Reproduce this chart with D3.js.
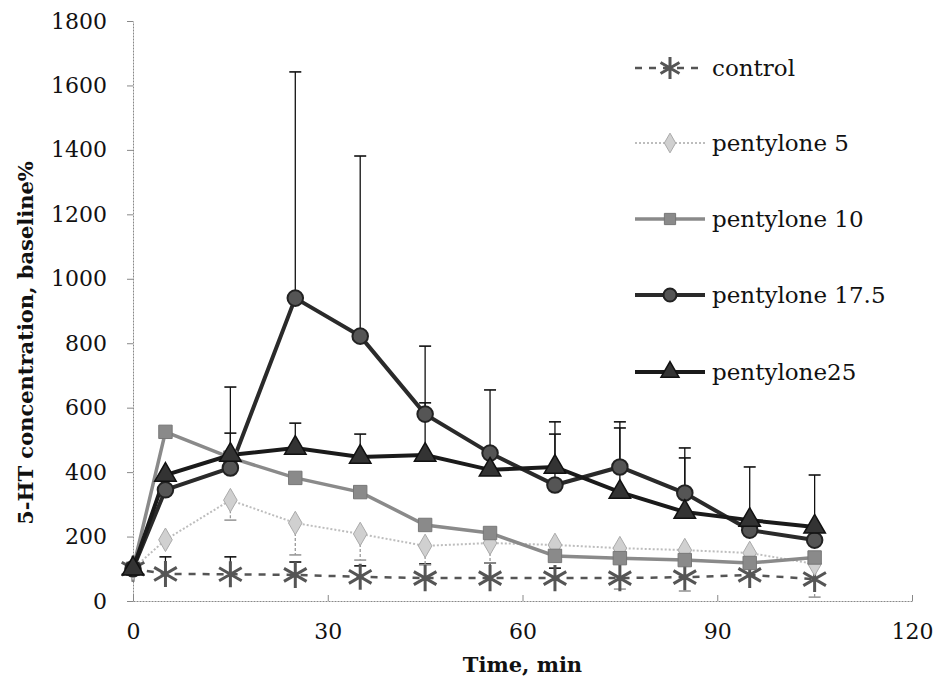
<!DOCTYPE html>
<html lang="en">

<head>
    <meta charset="UTF-8" />
    <title>5-HT concentration</title>
    <script src="https://d3js.org/d3.v7.min.js"></script>
    <style>
        body { margin: 0; background: #fff; }
        svg text { font-family: "DejaVu Serif", "Liberation Serif", serif; fill: #111; }
        .axis .domain { stroke: #888; stroke-dasharray: 2 1; }
        .axis line { stroke: #888; }
    </style>
</head>

<body>
    <svg id="chart" width="940" height="693"></svg>
    <script>
        // time points, min
        const times = [0, 5, 15, 25, 35, 45, 55, 65, 75, 85, 95, 105];

        // mean values, baseline%
        const control = [100, 84, 83, 81, 75, 71, 71, 71, 71, 74, 81, 68];
        const pentylone5 = [100, 190, 313, 242, 208, 171, 180, 174, 164, 158, 149, 115];
        const pentylone10 = [100, 525, 445, 382, 338, 236, 211, 140, 133, 127, 118, 135];
        const pentylone175 = [100, 345, 413, 940, 822, 580, 459, 360, 416, 335, 220, 189];
        const pentylone25 = [100, 391, 453, 475, 447, 453, 407, 416, 338, 276, 251, 230];

        // error bar tips (null = not visible)
        const controlUpper = [null, 137, 137, 121, 109, 115, 118, 102, null, null, null, null];
        const controlLower = [null, null, null, null, null, null, null, null, 37, 31, null, 12];
        const pentylone5Lower = [null, null, 251, 143, 127, 112, 118, null, null, null, null, null];
        const pentylone175Upper = [null, null, 664, 1642, 1381, 791, 655, 556, 556, 475, 416, 391];
        const pentylone25Upper = [null, null, 521, 552, 518, 615, null, 518, 537, 444, null, null];

        const xTicks = [0, 30, 60, 90, 120];
        const yTicks = [0, 200, 400, 600, 800, 1000, 1200, 1400, 1600, 1800];

        const series = [
            { name: "control", values: control, upper: controlUpper, lower: controlLower },
            { name: "pentylone 5", values: pentylone5, lower: pentylone5Lower },
            { name: "pentylone 10", values: pentylone10 },
            { name: "pentylone 17.5", values: pentylone175, upper: pentylone175Upper },
            { name: "pentylone25", values: pentylone25, upper: pentylone25Upper },
        ];

        const styles = {
            "control": { stroke: "#555", width: 2.5, dash: "7 7", symbol: d3.symbolAsterisk, size: 480, fill: "none", mstroke: "#555", mwidth: 3 },
            "pentylone 5": { stroke: "#bdbdbd", width: 2, dash: "2 2", symbol: d3.symbolDiamond, size: 160, fill: "#d0d0d0", mstroke: "#aaa", mwidth: 1 },
            "pentylone 10": { stroke: "#8a8a8a", width: 3.5, dash: null, symbol: d3.symbolSquare, size: 180, fill: "#8a8a8a", mstroke: "#777", mwidth: 1 },
            "pentylone 17.5": { stroke: "#2a2a2a", width: 4, dash: null, symbol: d3.symbolCircle, size: 190, fill: "#555", mstroke: "#222", mwidth: 2 },
            "pentylone25": { stroke: "#1a1a1a", width: 4, dash: null, symbol: d3.symbolTriangle, size: 200, fill: "#333", mstroke: "#111", mwidth: 1.5 },
        };

        const svg = d3.select("svg#chart");
        const margins = { top: 21, right: 28, bottom: 92, left: 133 };
        const svgWidth = +svg.attr("width");
        const svgHeight = +svg.attr("height");

        const xScale = d3.scaleLinear().domain([0, 120]).range([margins.left, svgWidth - margins.right]);
        const yScale = d3.scaleLinear().domain([0, 1800]).range([svgHeight - margins.bottom, margins.top]);

        const serif = '"DejaVu Serif", "Liberation Serif", serif';

        // axes
        svg.append("g")
            .attr("class", "y axis")
            .attr("transform", `translate(${margins.left},0)`)
            .call(d3.axisLeft(yScale).tickValues(yTicks).tickFormat(d3.format("d")).tickSize(6).tickSizeOuter(0).tickPadding(20))
            .call(g => g.selectAll("text").style("font-size", "22px").style("font-family", serif).attr("fill", "#111"));

        svg.append("g")
            .attr("class", "x axis")
            .attr("transform", `translate(0,${yScale(0)})`)
            .call(d3.axisBottom(xScale).tickValues(xTicks).tickSize(-6).tickSizeOuter(0).tickPadding(22))
            .call(g => g.selectAll("text").style("font-size", "22px").style("font-family", serif).attr("fill", "#111"));

        // axis titles
        svg.append("text")
            .attr("x", (margins.left + svgWidth - margins.right) / 2)
            .attr("y", 672)
            .attr("text-anchor", "middle")
            .style("font-family", serif)
            .style("font-size", "21px")
            .style("font-weight", "bold")
            .text("Time, min");

        svg.append("text")
            .attr("transform", "translate(33,343) rotate(-90)")
            .attr("text-anchor", "middle")
            .style("font-family", serif)
            .style("font-size", "21px")
            .style("font-weight", "bold")
            .text("5-HT concentration, baseline%");

        const plot = svg.append("g").attr("id", "plot");

        // error bars
        series.forEach(s => {
            ["upper", "lower"].forEach(kind => {
                if (!s[kind]) return;
                const isGrey = kind === "lower";
                const bars = times.map((t, i) => ({ t, v: s.values[i], e: s[kind][i] })).filter(d => d.e != null);
                const g = plot.append("g").attr("class", "errbar");
                g.selectAll("line.stem").data(bars).join("line")
                    .attr("x1", d => xScale(d.t)).attr("x2", d => xScale(d.t))
                    .attr("y1", d => yScale(d.v)).attr("y2", d => yScale(d.e))
                    .attr("stroke", isGrey ? "#999" : "#111")
                    .attr("stroke-width", 1.3)
                    .attr("stroke-dasharray", isGrey ? "3 2" : null);
                g.selectAll("line.cap").data(bars).join("line")
                    .attr("x1", d => xScale(d.t) - 6).attr("x2", d => xScale(d.t) + 6)
                    .attr("y1", d => yScale(d.e)).attr("y2", d => yScale(d.e))
                    .attr("stroke", isGrey ? "#999" : "#111")
                    .attr("stroke-width", 1.6);
            });
        });

        const line = d3.line()
            .x((d, i) => xScale(times[i]))
            .y(d => yScale(d));

        // lines and markers
        series.forEach(s => {
            const st = styles[s.name];
            plot.append("path")
                .datum(s.values)
                .attr("fill", "none")
                .attr("stroke", st.stroke)
                .attr("stroke-width", st.width)
                .attr("stroke-dasharray", st.dash)
                .attr("d", line);
        });

        series.forEach(s => {
            const st = styles[s.name];
            plot.selectAll(null)
                .data(s.values)
                .join("path")
                .attr("transform", (d, i) => `translate(${xScale(times[i])},${yScale(d)})`)
                .attr("d", d3.symbol().type(st.symbol).size(st.size))
                .attr("fill", st.fill)
                .attr("stroke", st.mstroke)
                .attr("stroke-width", st.mwidth);
        });

        // legend
        const legendY = [68, 143, 219, 295, 372];
        const legend = svg.append("g").attr("id", "legend");
        series.forEach((s, i) => {
            const st = styles[s.name];
            const row = legend.append("g").attr("transform", `translate(635,${legendY[i]})`);
            row.append("line")
                .attr("x1", 0).attr("x2", 70)
                .attr("stroke", st.stroke)
                .attr("stroke-width", st.width)
                .attr("stroke-dasharray", st.dash);
            row.append("path")
                .attr("transform", "translate(35,0)")
                .attr("d", d3.symbol().type(st.symbol).size(st.size * 0.7))
                .attr("fill", st.fill)
                .attr("stroke", st.mstroke)
                .attr("stroke-width", st.mwidth);
            row.append("text")
                .attr("x", 77)
                .attr("y", 8)
                .style("font-family", serif)
                .style("font-size", "23px")
                .text(s.name);
        });
    </script>
</body>

</html>
